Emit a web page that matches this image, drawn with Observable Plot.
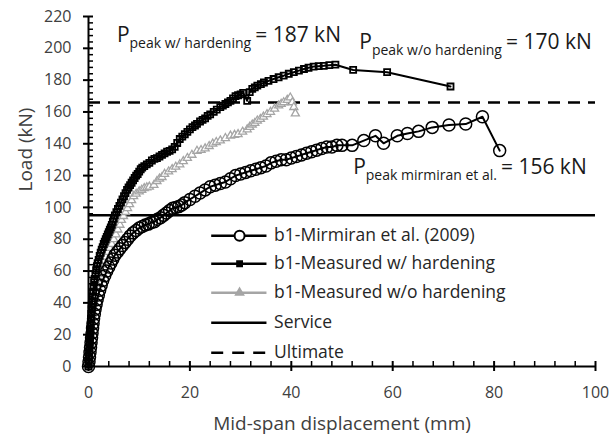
<!DOCTYPE html>
<html>
<head>
<meta charset="utf-8">
<script src="https://cdn.jsdelivr.net/npm/d3@7"></script>
<script src="https://cdn.jsdelivr.net/npm/@observablehq/plot@0.6"></script>
<style>
  html, body { margin: 0; padding: 0; background: #fff; }
  #chart { width: 616px; height: 442px; }
  svg { font-family: "Open Sans", "Noto Sans", sans-serif; }
</style>
</head>
<body>
<div id="chart"></div>
<script>
// ---------- data ----------
const mirX = [0,0.1,0.2,0.3,0.4,0.5,0.6,0.7,0.8,0.9,1.0,1.15,1.3,1.5,1.7,1.95,2.2,2.5,2.8,3.2,3.6,4.0,4.4,4.8,5.2,5.7,6.2,6.7,7.2,7.7,8.2,8.8,9.4,10,10.6,11.2,11.8,12.4,13,13.6,14.2,14.8,15.4,16,16.6,17.2,17.8,18.4,19,20,21,22,23,24,25,26,27,28,29,30,31,32,33,34,35,36,37,38,39,40,41,42,43,44,45,46,47,48,49,50,52,54.3,56.6,58.2,60.9,62.9,65.1,67.8,71.1,74.4,77.7,81.1];
const mirY = [0,3,6,9,12,15,18,21,24,27,30,33,36,39,42,45,48,51,54,57,60,62.5,65,67.5,70,72,74,76,78,80,82,84,85.5,87,88,89,89.5,90.5,91,92.5,93.5,95,96.5,98,99.5,100,100.5,101.5,103,105,107,109,111,113,114,115,116,118,120,121,122,123,124,125,126,128,129,130,130,131,132,133,134,135,136,137,138,138,139,139,139,142,145,140.3,145,146.5,147.8,150.3,151.8,152.4,157,135.7];

const hardX = [0,0.05,0.1,0.15,0.2,0.25,0.3,0.35,0.4,0.45,0.5,0.55,0.6,0.65,0.7,0.8,0.9,1.0,1.1,1.2,1.35,1.5,1.65,1.8,2.0,2.2,2.4,2.6,2.8,3.0,3.2,3.4,3.6,3.8,4.0,4.2,4.4,4.6,4.8,5.0,5.2,5.5,5.8,6.1,6.4,6.7,7.0,7.3,7.6,7.9,8.2,8.5,8.8,9.1,9.4,9.7,10.0,10.3,10.6,11.0,11.5,12.0,12.5,13.0,13.5,14.0,14.5,15.0,15.5,16.0,16.5,17.0,17.5,18.0,18.5,19.0,19.5,20.0,20.5,21.0,21.4,22.0,22.5,23.0,23.5,24.0,24.7,25.3,26.0,26.5,27.0,27.5,28.0,28.5,29.0,29.5,30.0,30.5,31.3,31.8,32.3,32.8,33.3,34.0,34.6,35.5,36.5,37.5,38.5,39.5,40.5,41.5,42.5,43.4,44.4,45.4,46.4,47.5,48.7,52.2,58.9,71.4];
const hardY = [0,3,6,9,12,15,18,21,24,27,30,33,36,39,41,44,47,50,53,55,58,60.5,63,65,67,69.5,71.5,73.5,75,77,78.5,80,81.5,83,84.5,86,87.5,89,91,93,95,97,99,101,103,105,107,109,111,112.5,114,115.5,117,118.5,120,121,122.5,124,125,126,127,128,129.5,130.5,131,132,133,134,135,135.5,136.5,138,140.5,143,144.5,146,147.5,149,150.5,151.5,152.5,154,155,156,157.5,158.5,160,161.5,163,164,165,166,167,168.5,170,170.5,171,172,167,172.5,174.5,175.5,176.5,177.5,178.5,179.5,180.7,181.8,182.8,184,185,186,187,187.8,188.5,188.8,189,189.4,189.7,186.4,185,176];

const noHardX = [0,0.1,0.2,0.3,0.4,0.5,0.6,0.7,0.85,1.0,1.2,1.4,1.6,1.85,2.1,2.4,2.7,3.0,3.4,3.8,4.2,4.6,5.0,5.4,5.8,6.2,6.5,6.9,7.3,7.7,8.1,8.5,8.9,9.4,10.0,10.5,11.0,11.5,12.0,12.9,13.5,14.0,14.5,15.0,15.8,16.5,17.2,18.0,18.7,19.5,20.4,21.4,22.2,23.0,23.8,24.5,25.2,26.0,27.0,28.0,28.8,29.5,30.4,31.3,31.8,32.3,32.8,33.3,33.9,34.5,35.2,35.9,36.7,37.5,38.0,38.5,39.2,39.8,40.2,40.5,40.8];
const noHardY = [0,5,10,15,20,25,29,33,37,41,45,48.5,52,55,58,61,64,66.5,69,72,74.5,77,80,83,86,89,92,94.5,97,99.5,102,104.5,107,108.5,110,111,112,112.5,113,114,116.5,118,119,121,122.5,124,125.5,127,129,131,133,135.5,136,137,138.5,140,141,142,143.5,145,145.5,146,147.5,149,150.5,152,153,154.5,155.5,157,158.5,160,162,164,165,166,167.5,169,166,163,159];

const serviceLoad = 95;
const ultimateLoad = 166;

const xTicks = [0, 20, 40, 60, 80, 100];
const yTicks = [0, 20, 40, 60, 80, 100, 120, 140, 160, 180, 200, 220];
const xMinor = [4,8,12,16,24,28,32,36,44,48,52,56,64,68,72,76,84,88,92,96];
const yMinor = [4,8,12,16,24,28,32,36,44,48,52,56,64,68,72,76,84,88,92,96,104,108,112,116,124,128,132,136,144,148,152,156,164,168,172,176,184,188,192,196,204,208,212,216];

const seriesNames = ["b1-Mirmiran et al. (2009)", "b1-Measured w/ hardening", "b1-Measured w/o hardening", "Service", "Ultimate"];
const annotations = [
  {x: 5.7, y: 203.7, sub: "peak w/ hardening", val: "= 187 kN"},
  {x: 53.5, y: 199.2, sub: "peak w/o hardening", val: "= 170 kN"},
  {x: 52.3, y: 121, sub: "peak mirmiran et al.", val: "= 156 kN"}
];
// legend placement in data units (inside plot area)
const legendX1 = 24.3, legendX2 = 35.2, legendXm = 29.8, legendTextX = 36.6;
const legendY = [82.2, 64.6, 46.4, 27.5, 8.6];

// ---------- build tables ----------
const mir = mirX.map((x, i) => ({x, y: mirY[i]}));
const hard = hardX.map((x, i) => ({x, y: hardY[i]}));
const noHard = noHardX.map((x, i) => ({x, y: noHardY[i]}));
const legendRows = seriesNames.map((name, i) => ({name, y: legendY[i]}));

const W = 616, H = 442, mL = 88, mR = 21, mT = 16, mB = 76;
const fW = W - mL - mR, fH = H - mT - mB;
const tickColor = "#404040";
const gray = "#a5a5a5";
const FONT = "'Open Sans', 'Noto Sans', sans-serif";

const plot = Plot.plot({
  width: W, height: H,
  marginLeft: mL, marginRight: mR, marginTop: mT, marginBottom: mB,
  x: {domain: [0, 100]},
  y: {domain: [0, 220]},
  style: {fontFamily: FONT, background: "white"},
  marks: [
    // reference lines
    Plot.ruleY([serviceLoad], {stroke: "black", strokeWidth: 2.5}),
    Plot.ruleY([ultimateLoad], {stroke: "black", strokeWidth: 2.5, strokeDasharray: "12,8"}),
    // series
    Plot.line(noHard, {x: "x", y: "y", stroke: gray, strokeWidth: 2}),
    Plot.dot(noHard, {x: "x", y: "y", symbol: "triangle", r: 3, stroke: gray, fill: "white", strokeWidth: 1.3}),
    Plot.line(mir, {x: "x", y: "y", stroke: "black", strokeWidth: 2}),
    Plot.dot(mir, {x: "x", y: "y", r: 6, stroke: "black", fill: "none", strokeWidth: 1.5}),
    Plot.line(hard, {x: "x", y: "y", stroke: "black", strokeWidth: 2}),
    Plot.dot(hard, {x: "x", y: "y", symbol: "square", r: 3.4, stroke: "black", fill: "none", strokeWidth: 1.8}),
    // axes
    Plot.ruleY([0], {stroke: "black", strokeWidth: 2}),
    Plot.ruleX([0], {stroke: "black", strokeWidth: 2}),
    Plot.axisX(xTicks, {anchor: "bottom", tickSize: 5, tickPadding: 15, fontSize: 16, fill: tickColor, stroke: "black", strokeWidth: 2, label: null}),
    Plot.tickX(xTicks, {x: d => d, insetTop: fH - 5, stroke: "black", strokeWidth: 2}),
    Plot.tickX(xMinor, {x: d => d, insetTop: fH - 5, stroke: "black", strokeWidth: 1.5}),
    Plot.axisY(yTicks, {anchor: "left", tickSize: 5, tickPadding: 12, fontSize: 16, fill: tickColor, stroke: "black", strokeWidth: 2, label: null}),
    Plot.tickY(yTicks, {y: d => d, insetRight: fW - 5, stroke: "black", strokeWidth: 2}),
    Plot.tickY(yMinor, {y: d => d, insetRight: fW - 5, stroke: "black", strokeWidth: 1.5}),
    // axis titles
    Plot.text(["Mid-span displacement (mm)"], {frameAnchor: "bottom", dy: 63, fontSize: 19, fill: tickColor}),
    Plot.text(["Load (kN)"], {frameAnchor: "left", dx: -63, rotate: -90, fontSize: 19, fill: tickColor}),
    // legend
    Plot.ruleY(legendRows.filter((d, i) => i !== 2 && i !== 4), {x1: legendX1, x2: legendX2, y: "y", stroke: "black", strokeWidth: 2.5}),
    Plot.ruleY(legendRows.filter((d, i) => i === 2), {x1: legendX1, x2: legendX2, y: "y", stroke: gray, strokeWidth: 2.5}),
    Plot.ruleY(legendRows.filter((d, i) => i === 4), {x1: legendX1, x2: legendX2, y: "y", stroke: "black", strokeWidth: 2.5, strokeDasharray: "12,9"}),
    Plot.dot(legendRows.filter((d, i) => i === 0), {x: legendXm, y: "y", r: 5, stroke: "black", fill: "white", strokeWidth: 2}),
    Plot.dot(legendRows.filter((d, i) => i === 1), {x: legendXm, y: "y", symbol: "square", r: 3, stroke: "black", fill: "black", strokeWidth: 1.5}),
    Plot.dot(legendRows.filter((d, i) => i === 2), {x: legendXm, y: "y", symbol: "triangle", r: 3, stroke: gray, fill: gray, strokeWidth: 1.5}),
    Plot.text(legendRows, {x: legendTextX, y: "y", text: "name", textAnchor: "start", fontSize: 17.5, fill: "#262626"})
  ]
});

document.getElementById("chart").appendChild(plot);

// annotations with subscripts, positioned through the plot's scales
const sx = plot.scale("x"), sy = plot.scale("y");
const svg = d3.select(plot);
annotations.forEach(a => {
  const t = svg.append("text")
    .attr("x", sx.apply(a.x))
    .attr("y", sy.apply(a.y))
    .attr("text-anchor", "start")
    .attr("fill", "#1a1a1a")
    .attr("font-size", 21)
    .attr("font-family", FONT);
  t.append("tspan").text("P");
  t.append("tspan").attr("font-size", 14).attr("dy", 6).text(a.sub);
  t.append("tspan").attr("dy", -6).attr("dx", 4).text(a.val);
});
</script>
</body>
</html>
